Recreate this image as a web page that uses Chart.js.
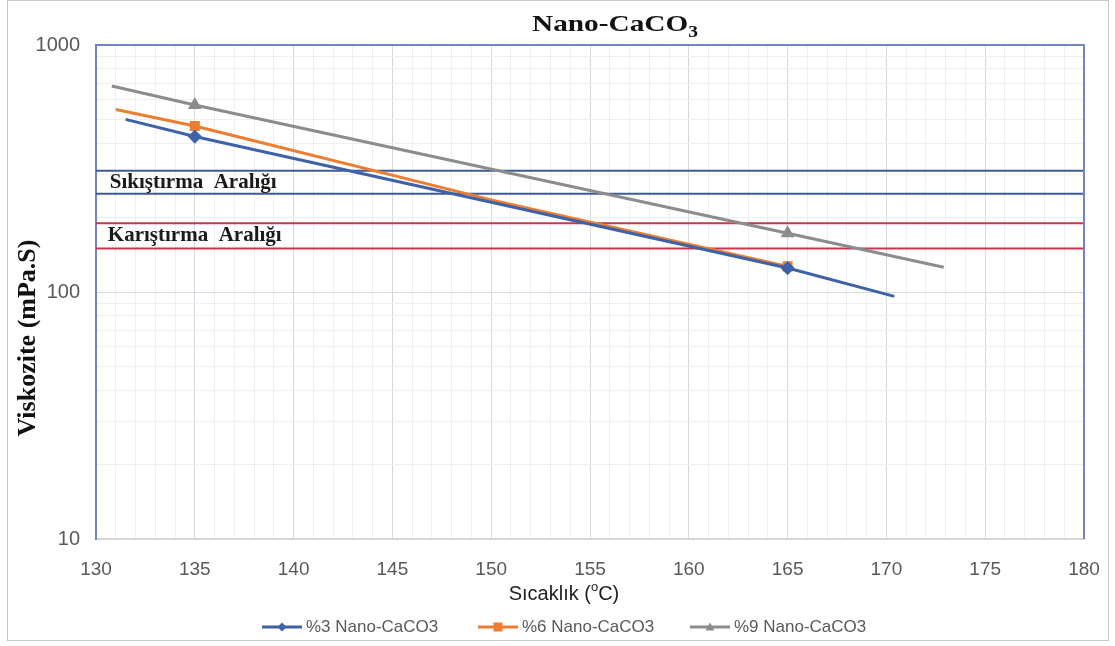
<!DOCTYPE html>
<html>
<head>
<meta charset="utf-8">
<script src="https://cdn.jsdelivr.net/npm/chart.js@4.4.1/dist/chart.umd.min.js"></script>
<style>
  html, body { margin: 0; padding: 0; background: #fff; }
  canvas { display: block; }
</style>
</head>
<body>
<canvas id="grafico" width="1115" height="646"></canvas>
<script>
// Viskozite - sıcaklık verileri (log eksen)
const seriesLabels = ['%3 Nano-CaCO3', '%6 Nano-CaCO3', '%9 Nano-CaCO3'];
const seriesColors = ['#3d62a8', '#ed7d31', '#8c8c8c'];
const seriesMarkers = ['rectRot', 'rect', 'triangle'];

const nano3Temp = [131.5, 135, 165, 170.4];
const nano3Visc = [500, 426, 125, 96];
const nano6Temp = [131, 135, 150, 165];
const nano6Visc = [548, 470, 236, 127];
const nano9Temp = [130.8, 135, 165, 172.9];
const nano9Visc = [682, 572, 173, 126];

// ölçüm noktaları (işaretçiler sadece bunlarda)
const measuredTemps = [135, 165];

// sıkıştırma ve karıştırma aralıkları
const rangeTemps = [130, 180];
const compactionRange = [250, 310];
const mixingRange = [150, 190];

const xTicks = [130, 135, 140, 145, 150, 155, 160, 165, 170, 175, 180];
const yTicks = [10, 100, 1000];

const toPoints = (xs, ys) => xs.map((x, i) => ({ x: x, y: ys[i] }));

const serie = (i, xs, ys) => ({
    label: seriesLabels[i],
    data: toPoints(xs, ys),
    borderColor: seriesColors[i],
    backgroundColor: seriesColors[i],
    borderWidth: 3,
    pointStyle: seriesMarkers[i],
    pointRadius: ctx => measuredTemps.includes(ctx.raw && ctx.raw.x) ? 5 : 0,
    pointHoverRadius: 0,
    tension: 0,
    order: 1
});

const rango = (valor, color) => ({
    label: '',
    data: toPoints(rangeTemps, [valor, valor]),
    borderColor: color,
    borderWidth: 2,
    pointRadius: 0,
    order: 2
});

const datasets = [
    serie(0, nano3Temp, nano3Visc),
    serie(1, nano6Temp, nano6Visc),
    serie(2, nano9Temp, nano9Visc),
    rango(compactionRange[0], '#3e5a98'),
    rango(compactionRange[1], '#3e5a98'),
    rango(mixingRange[0], '#c9354a'),
    rango(mixingRange[1], '#c9354a')
];

const esMayor = v => Math.abs(Math.log10(v) - Math.round(Math.log10(v))) < 1e-6;

// texto estirado en horizontal
function textoAncho(ctx, txt, x, y, escala) {
    ctx.save();
    ctx.translate(x, y);
    ctx.scale(escala, 1);
    ctx.fillText(txt, 0, 0);
    ctx.restore();
}

// textos, marco y leyenda dibujados a mano
const extras = {
    id: 'extras',
    afterDraw(chart) {
        const ctx = chart.ctx;
        const a = chart.chartArea;
        const xs = chart.scales.x;
        const ys = chart.scales.y;
        ctx.save();

        // marco exterior
        ctx.strokeStyle = '#c8c8c8';
        ctx.lineWidth = 1;
        ctx.strokeRect(7.5, 0.5, 1101, 640);

        // borde superior y derecho del área
        ctx.strokeStyle = '#6f86c0';
        ctx.lineWidth = 2;
        ctx.beginPath();
        ctx.moveTo(a.left, a.top);
        ctx.lineTo(a.right, a.top);
        ctx.lineTo(a.right, a.bottom);
        ctx.stroke();

        // título con subíndice
        const esc = 1.22;
        ctx.fillStyle = '#111';
        ctx.textBaseline = 'alphabetic';
        ctx.textAlign = 'left';
        const t1 = 'Nano-CaCO';
        ctx.font = 'bold 16px "Liberation Serif"';
        const wSub = ctx.measureText('3').width * esc;
        ctx.font = 'bold 24px "Liberation Serif"';
        const w1 = ctx.measureText(t1).width * esc;
        const tx = 615 - (w1 + wSub) / 2;
        textoAncho(ctx, t1, tx, 31, esc);
        ctx.font = 'bold 16px "Liberation Serif"';
        textoAncho(ctx, '3', tx + w1, 37, esc);

        // título eje Y
        ctx.save();
        ctx.translate(28, 338);
        ctx.rotate(-Math.PI / 2);
        ctx.textAlign = 'center';
        ctx.textBaseline = 'middle';
        ctx.font = 'bold 26px "Liberation Serif"';
        ctx.fillText('Viskozite (mPa.S)', 0, 0);
        ctx.restore();

        // título eje X con "o" en superíndice
        ctx.fillStyle = '#1f1f1f';
        ctx.font = '20px "Liberation Sans"';
        const p1 = 'Sıcaklık (', p3 = 'C)';
        const wp1 = ctx.measureText(p1).width;
        const wp3 = ctx.measureText(p3).width;
        ctx.font = '13px "Liberation Sans"';
        const wp2 = ctx.measureText('o').width;
        const cx = 564 - (wp1 + wp2 + wp3) / 2;
        ctx.textAlign = 'left';
        ctx.font = '20px "Liberation Sans"';
        ctx.fillText(p1, cx, 600);
        ctx.font = '13px "Liberation Sans"';
        ctx.fillText('o', cx + wp1, 591);
        ctx.font = '20px "Liberation Sans"';
        ctx.fillText(p3, cx + wp1 + wp2, 600);

        // etiquetas de los rangos
        ctx.fillStyle = '#1a1a1a';
        ctx.font = 'bold 21px "Liberation Serif"';
        ctx.textBaseline = 'middle';
        const gm = r => Math.sqrt(r[0] * r[1]);
        ctx.fillText('Sıkıştırma  Aralığı', xs.getPixelForValue(130.7), ys.getPixelForValue(gm(compactionRange)));
        ctx.fillText('Karıştırma  Aralığı', xs.getPixelForValue(130.6), ys.getPixelForValue(gm(mixingRange)));

        // leyenda
        const itemsX = [262, 478, 690];
        const ly = 627;
        ctx.font = '17px "Liberation Sans"';
        ctx.textBaseline = 'middle';
        for (let i = 0; i < 3; i++) {
            const x0 = itemsX[i];
            ctx.strokeStyle = seriesColors[i];
            ctx.fillStyle = seriesColors[i];
            ctx.lineWidth = 3;
            ctx.beginPath();
            ctx.moveTo(x0, ly);
            ctx.lineTo(x0 + 40, ly);
            ctx.stroke();
            const mx = x0 + 20, r = 4.5;
            ctx.beginPath();
            if (seriesMarkers[i] === 'rectRot') {
                ctx.moveTo(mx, ly - r); ctx.lineTo(mx + r, ly); ctx.lineTo(mx, ly + r); ctx.lineTo(mx - r, ly);
            } else if (seriesMarkers[i] === 'rect') {
                ctx.rect(mx - r, ly - r, 2 * r, 2 * r);
            } else {
                ctx.moveTo(mx, ly - r); ctx.lineTo(mx + r, ly + r * 0.8); ctx.lineTo(mx - r, ly + r * 0.8);
            }
            ctx.closePath();
            ctx.fill();
            ctx.fillStyle = '#595959';
            ctx.fillText(seriesLabels[i], x0 + 44, ly);
        }
        ctx.restore();
    }
};

const grafico = new Chart(document.getElementById('grafico'), {
    type: 'line',
    data: { datasets: datasets },
    options: {
        responsive: false,
        animation: false,
        layout: { padding: { top: 45, right: 31, left: 0, bottom: 0 } },
        plugins: {
            legend: { display: false },
            title: { display: false },
            tooltip: { enabled: false }
        },
        scales: {
            x: {
                type: 'linear',
                min: 130,
                max: 180,
                afterFit: s => { s.height = 107; s.paddingRight = 0; s.paddingLeft = 0; },
                ticks: {
                    stepSize: 1,
                    autoSkip: false,
                    maxRotation: 0,
                    padding: 19,
                    color: '#595959',
                    font: { family: 'Liberation Sans', size: 19 },
                    callback: v => xTicks.includes(v) ? String(v) : ''
                },
                grid: {
                    drawTicks: false,
                    color: c => xTicks.includes(c.tick.value) ? '#d6d9df' : '#eeeff2',
                    lineWidth: 1
                },
                border: { color: '#d6d6d6', width: 2 }
            },
            y: {
                type: 'logarithmic',
                min: 10,
                max: 1000,
                afterFit: s => { s.width = 96; s.paddingTop = 0; s.paddingBottom = 0; },
                ticks: {
                    autoSkip: false,
                    padding: 16,
                    color: '#595959',
                    font: { family: 'Liberation Sans', size: 20 },
                    callback: v => yTicks.includes(v) ? String(v) : ''
                },
                grid: {
                    drawTicks: false,
                    color: c => esMayor(c.tick.value) ? '#d6d9df' : '#eeeff2',
                    lineWidth: 1
                },
                border: { color: '#6f86c0', width: 2 }
            }
        }
    },
    plugins: [extras]
});
</script>
</body>
</html>
